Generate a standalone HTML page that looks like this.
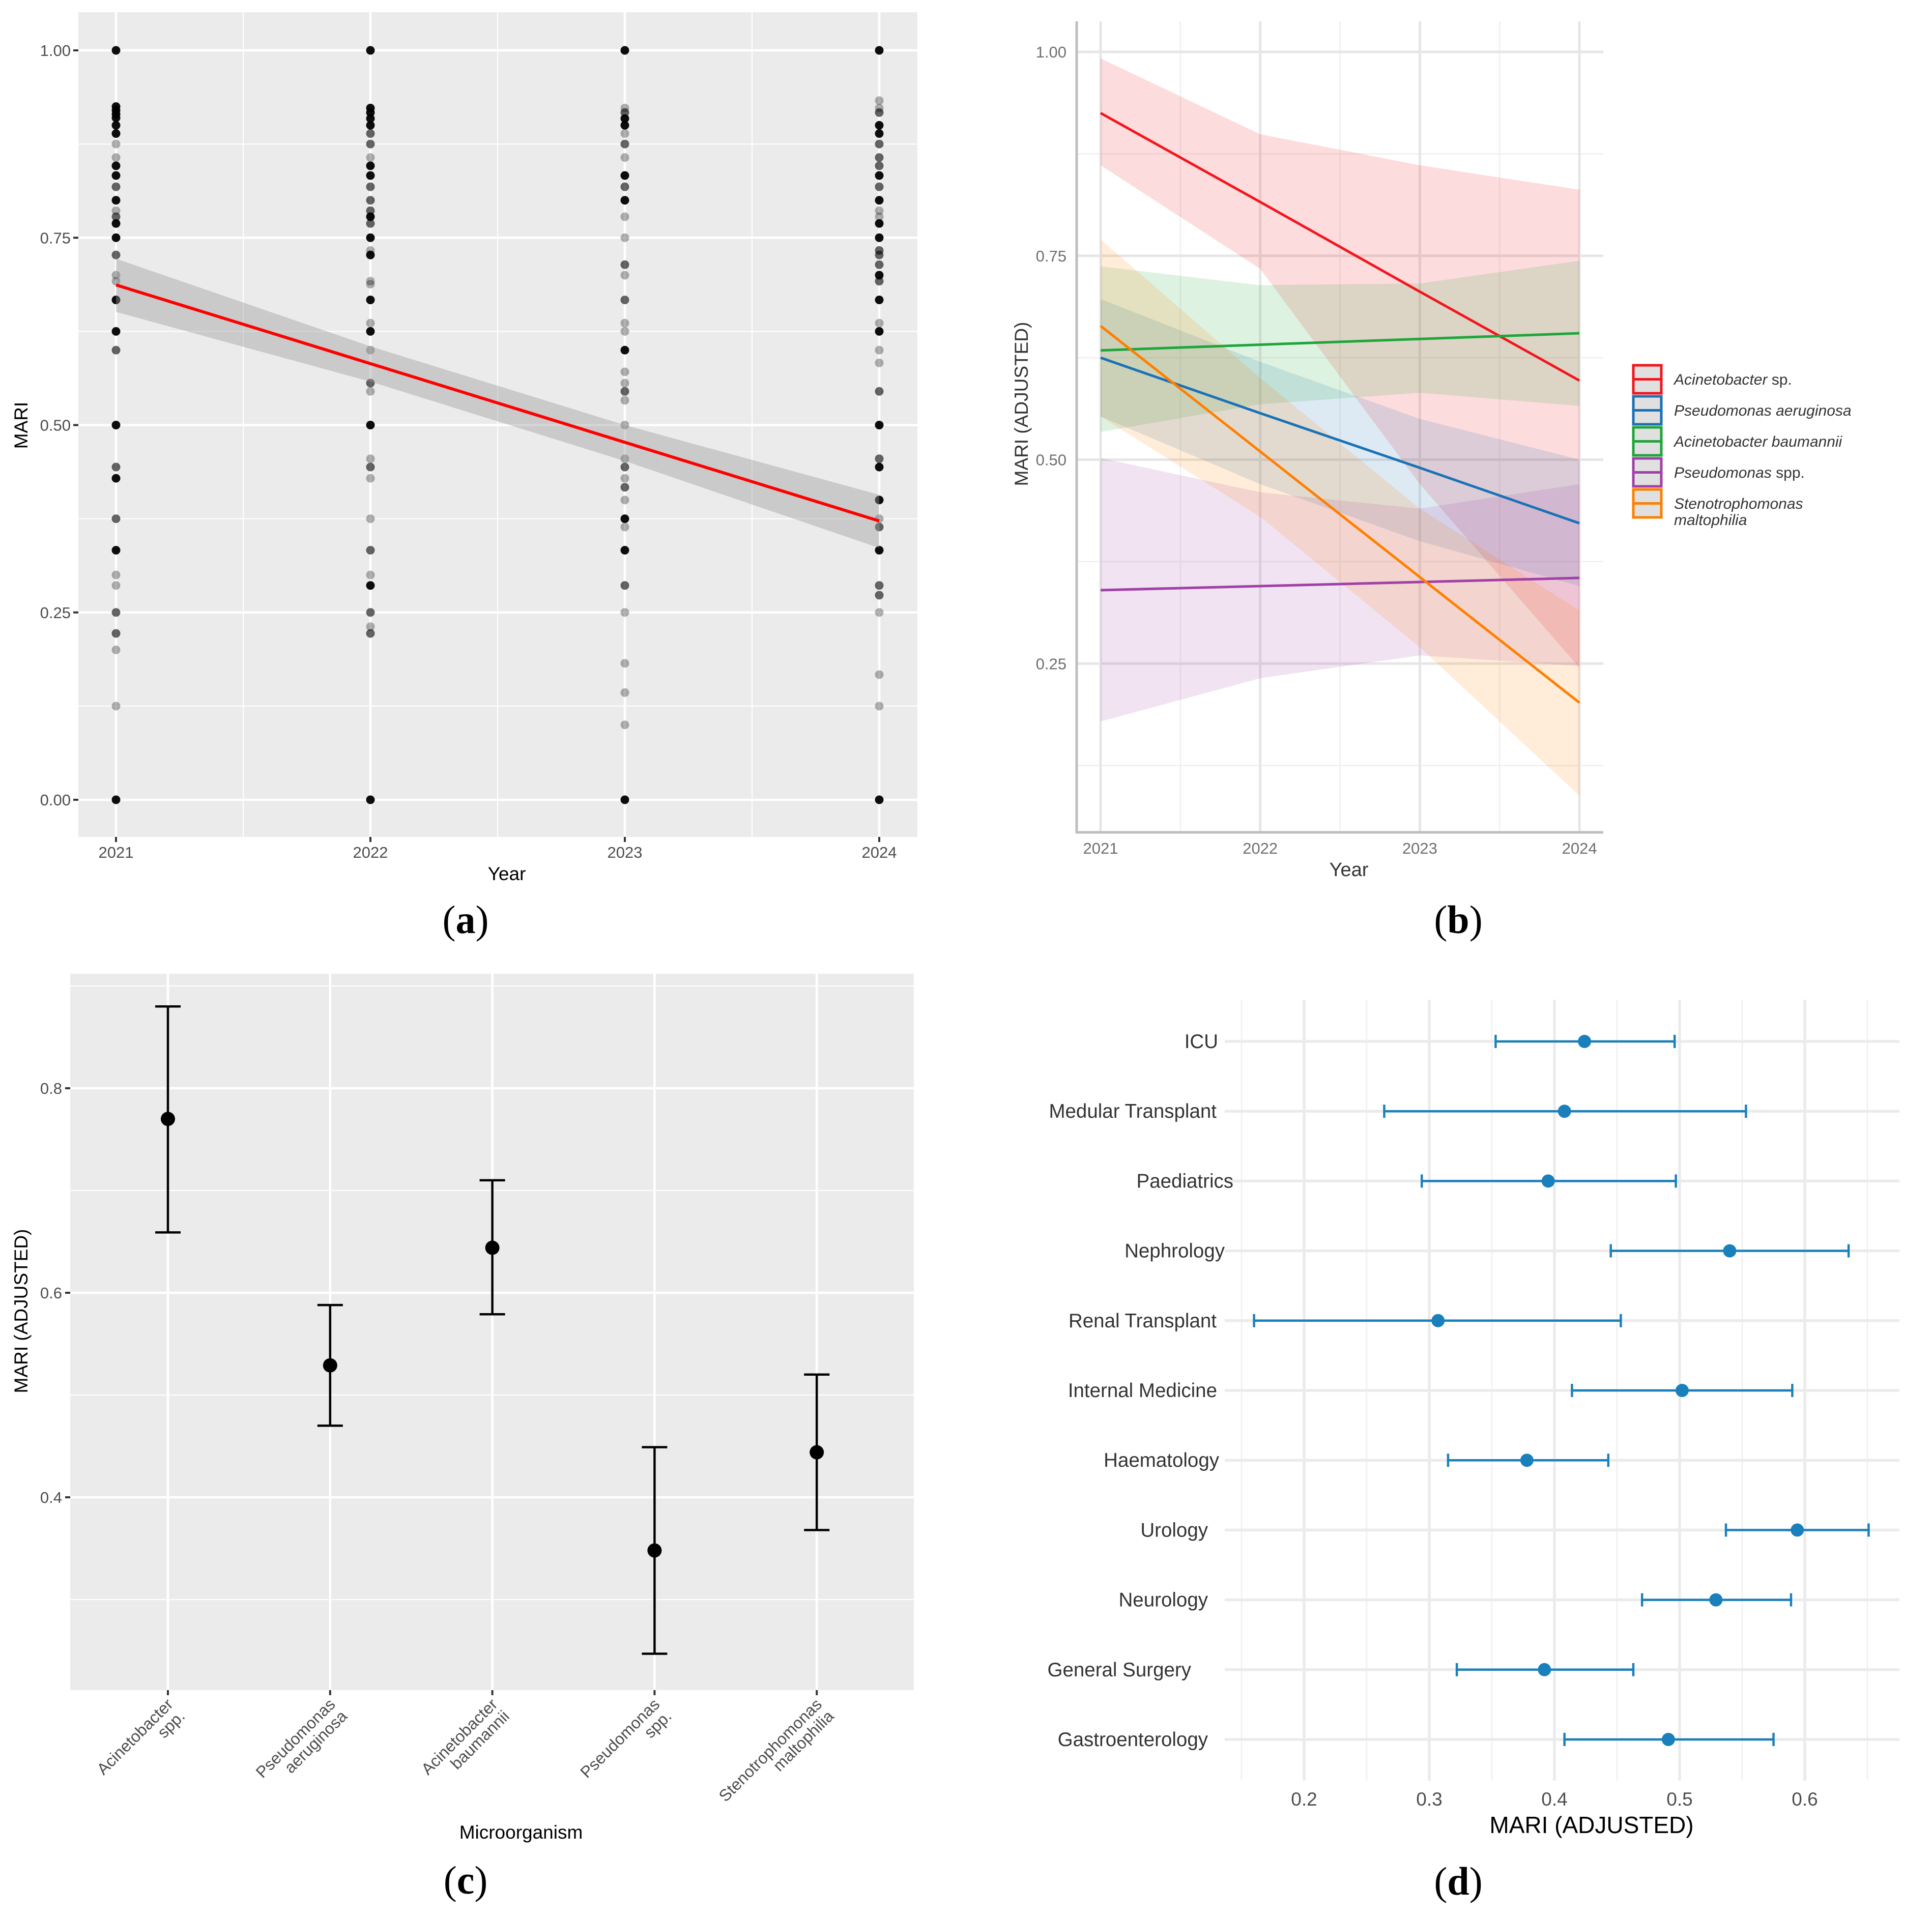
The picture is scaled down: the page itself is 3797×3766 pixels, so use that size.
<!DOCTYPE html>
<html><head><meta charset="utf-8"><style>
html,body{margin:0;padding:0;background:#fff;}
svg{display:block;font-family:"Liberation Sans",sans-serif;}
</style></head><body>
<svg id="fig" width="3797" height="3766" viewBox="0 0 3797 3766" xmlns="http://www.w3.org/2000/svg"></svg>
<script>
// ---------- Panel (a) data ----------
const aYears=[2021,2022,2023,2024];
const aVals2021=[1,0.925,0.92,0.915,0.91,0.9,0.889,0.875,0.857,0.846,0.833,0.818,0.8,0.786,0.778,0.769,0.75,0.727,0.7,0.692,0.667,0.625,0.6,0.5,0.444,0.429,0.375,0.333,0.3,0.286,0.25,0.222,0.2,0.125,0];
const aShade2021=[3,3,3,3,3,3,3,1,1,3,3,2,3,1,2,3,3,2,1,1,3,3,2,3,2,3,2,3,1,1,2,2,1,1,3];
const aVals2022=[1,0.923,0.917,0.909,0.9,0.889,0.875,0.857,0.846,0.833,0.818,0.8,0.786,0.778,0.769,0.75,0.733,0.727,0.692,0.688,0.667,0.636,0.625,0.6,0.556,0.545,0.5,0.455,0.444,0.429,0.375,0.333,0.3,0.286,0.25,0.231,0.222,0];
const aShade2022=[3,3,3,3,3,2,2,1,3,3,2,2,2,3,2,3,1,3,1,1,3,1,3,1,2,1,3,1,2,1,1,2,1,3,2,1,2,3];
const aVals2023=[1,0.923,0.917,0.909,0.9,0.889,0.875,0.857,0.833,0.818,0.8,0.778,0.75,0.714,0.7,0.667,0.636,0.625,0.6,0.571,0.556,0.545,0.533,0.5,0.455,0.444,0.429,0.417,0.4,0.375,0.364,0.333,0.286,0.25,0.182,0.143,0.1,0];
const aShade2023=[3,1,2,3,3,1,2,1,3,2,3,1,1,2,1,2,1,1,3,1,1,2,1,1,1,2,1,2,1,3,1,3,2,1,1,1,1,3];
const aVals2024=[1,0.933,0.923,0.917,0.9,0.889,0.875,0.857,0.846,0.833,0.818,0.8,0.786,0.778,0.769,0.75,0.733,0.727,0.714,0.7,0.692,0.667,0.636,0.625,0.6,0.583,0.545,0.5,0.455,0.444,0.4,0.375,0.364,0.333,0.286,0.273,0.25,0.167,0.125,0];
const aShade2024=[3,1,1,2,3,3,2,2,2,3,2,3,1,1,3,3,2,2,2,3,2,3,1,3,1,1,2,3,2,3,3,1,2,3,2,2,1,1,1,3];
const aFit=[0.687,0.582,0.477,0.372];
const aUpper=[0.722,0.605,0.500,0.407];
const aLower=[0.651,0.558,0.452,0.336];
const aYTicks=[0,0.25,0.5,0.75,1];
const aYTickLabels=["0.00","0.25","0.50","0.75","1.00"];

// ---------- Panel (b) data ----------
const bYears=[2021,2022,2023,2024];
const bSeries=["Acinetobacter sp.","Pseudomonas aeruginosa","Acinetobacter baumannii","Pseudomonas spp.","Stenotrophomonas maltophilia"];
const bFit=[[0.925,0.816,0.706,0.597],[0.625,0.557,0.490,0.422],[0.634,0.641,0.648,0.655],[0.340,0.345,0.350,0.355],[0.664,0.510,0.356,0.202]];
const bUpper=[[0.992,0.899,0.861,0.831],[0.697,0.62,0.55,0.50],[0.737,0.714,0.716,0.744],[0.502,0.46,0.44,0.47],[0.770,0.60,0.44,0.315]];
const bLower=[[0.861,0.734,0.47,0.245],[0.553,0.47,0.40,0.345],[0.534,0.568,0.582,0.566],[0.179,0.232,0.26,0.247],[0.553,0.43,0.27,0.088]];
const bYTicks=[0.25,0.5,0.75,1];
const bYTickLabels=["0.25","0.50","0.75","1.00"];

// ---------- Panel (c) data ----------
const cCats=[["Acinetobacter","spp."],["Pseudomonas","aeruginosa"],["Acinetobacter","baumannii"],["Pseudomonas","spp."],["Stenotrophomonas","maltophilia"]];
const cMean=[0.770,0.529,0.644,0.348,0.444];
const cLo=[0.659,0.470,0.579,0.247,0.368];
const cHi=[0.880,0.588,0.710,0.449,0.520];
const cYTicks=[0.4,0.6,0.8];
const cYTickLabels=["0.4","0.6","0.8"];

// ---------- Panel (d) data ----------
const dCats=["ICU","Medular Transplant","Paediatrics","Nephrology","Renal Transplant","Internal Medicine","Haematology","Urology","Neurology","General Surgery","Gastroenterology"];
const dMean=[0.424,0.408,0.395,0.540,0.307,0.502,0.378,0.594,0.529,0.392,0.491];
const dLo=[0.353,0.264,0.294,0.445,0.160,0.414,0.315,0.537,0.470,0.322,0.408];
const dHi=[0.496,0.553,0.497,0.635,0.453,0.590,0.443,0.651,0.589,0.463,0.575];
const dXTicks=[0.2,0.3,0.4,0.5,0.6];
const dXTickLabels=["0.2","0.3","0.4","0.5","0.6"];

const NS="http://www.w3.org/2000/svg";
const svg=document.getElementById('fig');
function mk(tag,attrs,parent){const e=document.createElementNS(NS,tag);for(const k in attrs)e.setAttribute(k,attrs[k]);(parent||svg).appendChild(e);return e;}
function grp(parent){return mk('g',{},parent);}

// ================= Panel (a) =================
const xA=y=>228+(y-2021)*500;
const yA=v=>1572-v*1473;
const gA=grp();


let el=mk('rect',{x:154,y:24,width:1649,height:1621,fill:'#EBEBEB'},gA);


[0.125,0.375,0.625,0.875].forEach(v=>{
  const l=mk('line',{x1:154,x2:1803,y1:yA(v),y2:yA(v),stroke:'#fff','stroke-width':2},gA);
  
  
});
[2021.5,2022.5,2023.5].forEach(v=>{
  const l=mk('line',{x1:xA(v),x2:xA(v),y1:24,y2:1645,stroke:'#fff','stroke-width':2},gA);
  
  
});
aYTicks.forEach((v,i)=>{
  const l=mk('line',{x1:154,x2:1803,y1:yA(v),y2:yA(v),stroke:'#fff','stroke-width':4.5},gA);
  
  
  const t=mk('line',{x1:144,x2:154,y1:yA(v),y2:yA(v),stroke:'#333','stroke-width':4},gA);
  
  
  const tx=mk('text',{x:139,y:yA(v)+11,'text-anchor':'end','font-size':31,fill:'#4D4D4D'},gA);
  tx.textContent=aYTickLabels[i];
  
  
});
aYears.forEach(y=>{
  const l=mk('line',{x1:xA(y),x2:xA(y),y1:24,y2:1645,stroke:'#fff','stroke-width':4.5},gA);
  
  
  const t=mk('line',{x1:xA(y),x2:xA(y),y1:1645,y2:1655,stroke:'#333','stroke-width':4},gA);
  
  
  const tx=mk('text',{x:xA(y),y:1686,'text-anchor':'middle','font-size':31,fill:'#4D4D4D'},gA);
  tx.textContent=String(y);
  
  
});
const shadeOp={1:0.3,2:0.6,3:0.95};
[[aVals2021,aShade2021],[aVals2022,aShade2022],[aVals2023,aShade2023],[aVals2024,aShade2024]].forEach((pair,yi)=>{
  pair[0].forEach((v,i)=>{
    const c=mk('circle',{cx:xA(aYears[yi]),cy:yA(v),r:8.5,fill:'#000','fill-opacity':shadeOp[pair[1][i]]},gA);
    
    
  });
});
let rib='';
aYears.forEach((y,i)=>{rib+=(i?'L':'M')+xA(y)+','+yA(aUpper[i]);});
for(let i=aYears.length-1;i>=0;i--)rib+='L'+xA(aYears[i])+','+yA(aLower[i]);
el=mk('path',{d:rib+'Z',fill:'#999','fill-opacity':0.4},gA);


el=mk('polyline',{points:aYears.map((y,i)=>xA(y)+','+yA(aFit[i])).join(' '),fill:'none',stroke:'#FF0000','stroke-width':6},gA);


el=mk('text',{x:996,y:1730,'text-anchor':'middle','font-size':37,fill:'#000'},gA);
el.textContent='Year';


el=mk('text',{x:0,y:0,transform:'translate(54,836) rotate(-90)','text-anchor':'middle','font-size':37,fill:'#000'},gA);
el.textContent='MARI';



// ================= Panel (b) =================
const xB=y=>2163+(y-2021)*313.7;
const yB=v=>102+(1-v)*1603;
const gB=grp();


[0.125,0.375,0.625,0.875].forEach(v=>{
  const l=mk('line',{x1:2116,x2:3151,y1:yB(v),y2:yB(v),stroke:'#EFEFEF','stroke-width':2.5},gB);
  
  
});
[2021.5,2022.5,2023.5].forEach(v=>{
  const l=mk('line',{x1:xB(v),x2:xB(v),y1:42,y2:1636,stroke:'#EFEFEF','stroke-width':2.5},gB);
  
  
});
bYTicks.forEach((v,i)=>{
  const l=mk('line',{x1:2116,x2:3151,y1:yB(v),y2:yB(v),stroke:'#E6E6E6','stroke-width':5},gB);
  
  
  const tx=mk('text',{x:2096,y:yB(v)+11,'text-anchor':'end','font-size':31,fill:'#6E6E6E'},gB);
  tx.textContent=bYTickLabels[i];
  
  
});
bYears.forEach(y=>{
  const l=mk('line',{x1:xB(y),x2:xB(y),y1:42,y2:1636,stroke:'#E6E6E6','stroke-width':5},gB);
  
  
  const tx=mk('text',{x:xB(y),y:1678,'text-anchor':'middle','font-size':31,fill:'#6E6E6E'},gB);
  tx.textContent=String(y);
  
  
});
const bColors=['#F2161E','#1A72B5','#1FA53A','#A040A8','#FF7F00'];
bSeries.forEach((s,k)=>{
  let d='';
  bYears.forEach((y,i)=>{d+=(i?'L':'M')+xB(y)+','+yB(bUpper[k][i]);});
  for(let i=bYears.length-1;i>=0;i--)d+='L'+xB(bYears[i])+','+yB(bLower[k][i]);
  const p=mk('path',{d:d+'Z',fill:bColors[k],'fill-opacity':0.15},gB);
  
  
});
bSeries.forEach((s,k)=>{
  const p=mk('polyline',{points:bYears.map((y,i)=>xB(y)+','+yB(bFit[k][i])).join(' '),fill:'none',stroke:bColors[k],'stroke-width':5},gB);
  
  
});
el=mk('line',{x1:2116,x2:2116,y1:42,y2:1638,stroke:'#BEBEBE','stroke-width':5},gB);


el=mk('line',{x1:2114,x2:3151,y1:1636,y2:1636,stroke:'#BEBEBE','stroke-width':5},gB);


el=mk('text',{x:2651,y:1722,'text-anchor':'middle','font-size':38,fill:'#333'},gB);
el.textContent='Year';


el=mk('text',{x:0,y:0,transform:'translate(2020,794) rotate(-90)','text-anchor':'middle','font-size':37,fill:'#333'},gB);
el.textContent='MARI (ADJUSTED)';


// legend
const legParts=[["Acinetobacter"," sp."],["Pseudomonas aeruginosa",""],["Acinetobacter baumannii",""],["Pseudomonas"," spp."],["Stenotrophomonas",""]];
bSeries.forEach((s,k)=>{
  const ky=715+k*61;
  const g=grp(gB);
  
  
  mk('rect',{x:3210,y:ky+3,width:55,height:55,fill:'#E0E0E0',stroke:bColors[k],'stroke-width':5},g);
  mk('line',{x1:3210,x2:3265,y1:ky+30.5,y2:ky+30.5,stroke:bColors[k],'stroke-width':5},g);
  const t=mk('text',{x:3290,y:ky+41,'font-size':30,fill:'#333'},g);
  const ts=mk('tspan',{'font-style':'italic'},t);ts.textContent=legParts[k][0];
  if(legParts[k][1]){const t2=mk('tspan',{},t);t2.textContent=legParts[k][1];}
  if(k===4){const t3=mk('text',{x:3290,y:ky+73,'font-size':30,fill:'#333','font-style':'italic'},g);t3.textContent='maltophilia';}
});

// ================= Panel (c) =================
const xC=i=>330+i*318.8;
const yC=v=>2139+(0.8-v)*2010;
const gC=grp();


el=mk('rect',{x:138,y:1914,width:1658,height:1408,fill:'#EBEBEB'},gC);


[0.3,0.5,0.7,0.9].forEach(v=>{
  const l=mk('line',{x1:138,x2:1796,y1:yC(v),y2:yC(v),stroke:'#fff','stroke-width':2},gC);
  
  
});
cYTicks.forEach((v,i)=>{
  const l=mk('line',{x1:138,x2:1796,y1:yC(v),y2:yC(v),stroke:'#fff','stroke-width':4.5},gC);
  
  
  const t=mk('line',{x1:128,x2:138,y1:yC(v),y2:yC(v),stroke:'#333','stroke-width':4},gC);
  
  
  const tx=mk('text',{x:122,y:yC(v)+11,'text-anchor':'end','font-size':31,fill:'#4D4D4D'},gC);
  tx.textContent=cYTickLabels[i];
  
  
});
cCats.forEach((c,i)=>{
  const x=xC(i);
  const l=mk('line',{x1:x,x2:x,y1:1914,y2:3322,stroke:'#fff','stroke-width':4.5},gC);
  
  
  const t=mk('line',{x1:x,x2:x,y1:3322,y2:3332,stroke:'#333','stroke-width':4},gC);
  
  
  const g=mk('g',{transform:'translate('+(x+12)+',3352) rotate(-45)'},gC);
  
  
  const t1=mk('text',{x:0,y:0,'text-anchor':'end','font-size':32,fill:'#4D4D4D'},g);t1.textContent=c[0];
  const t2=mk('text',{x:0,y:33,'text-anchor':'end','font-size':32,fill:'#4D4D4D'},g);t2.textContent=c[1];
});
cMean.forEach((m,i)=>{
  const x=xC(i);
  const g=grp(gC);
  
  
  mk('line',{x1:x,x2:x,y1:yC(cHi[i]),y2:yC(cLo[i]),stroke:'#000','stroke-width':4.5},g);
  mk('line',{x1:x-25,x2:x+25,y1:yC(cHi[i]),y2:yC(cHi[i]),stroke:'#000','stroke-width':4.5},g);
  mk('line',{x1:x-25,x2:x+25,y1:yC(cLo[i]),y2:yC(cLo[i]),stroke:'#000','stroke-width':4.5},g);
  const c=mk('circle',{cx:x,cy:yC(m),r:14,fill:'#000'},gC);
  
  
});
el=mk('text',{x:1024,y:3614,'text-anchor':'middle','font-size':37,fill:'#000'},gC);
el.textContent='Microorganism';


el=mk('text',{x:0,y:0,transform:'translate(54,2577) rotate(-90)','text-anchor':'middle','font-size':37,fill:'#000'},gC);
el.textContent='MARI (ADJUSTED)';



// ================= Panel (d) =================
const xD=v=>2563+(v-0.2)*2460;
const yD=i=>2047+i*137.2;
const gD=grp();


[0.15,0.25,0.35,0.45,0.55,0.65].forEach(v=>{
  const l=mk('line',{x1:xD(v),x2:xD(v),y1:1965,y2:3500,stroke:'#F0F0F0','stroke-width':2.5},gD);
  
  
});
dXTicks.forEach((v,i)=>{
  const l=mk('line',{x1:xD(v),x2:xD(v),y1:1965,y2:3500,stroke:'#EBEBEB','stroke-width':5.5},gD);
  
  
  const tx=mk('text',{x:xD(v),y:3549,'text-anchor':'middle','font-size':37,fill:'#4D4D4D'},gD);
  tx.textContent=dXTickLabels[i];
  
  
});
const dLabelEnd=[2394,2391,2424,2407,2391,2392,2396,2374,2374,2341,2374];
dCats.forEach((c,i)=>{
  const y=yD(i);
  const l=mk('line',{x1:2407,x2:3733,y1:y,y2:y,stroke:'#EBEBEB','stroke-width':5.5},gD);
  
  
  const tx=mk('text',{x:dLabelEnd[i],y:y+13,'text-anchor':'end','font-size':38.5,fill:'#333'},gD);
  tx.textContent=c;
  
  
});
dMean.forEach((m,i)=>{
  const y=yD(i);
  const g=grp(gD);
  
  
  mk('line',{x1:xD(dLo[i]),x2:xD(dHi[i]),y1:y,y2:y,stroke:'#1A80BB','stroke-width':4.5},g);
  mk('line',{x1:xD(dLo[i]),x2:xD(dLo[i]),y1:y-13,y2:y+13,stroke:'#1A80BB','stroke-width':4.5},g);
  mk('line',{x1:xD(dHi[i]),x2:xD(dHi[i]),y1:y-13,y2:y+13,stroke:'#1A80BB','stroke-width':4.5},g);
  const c=mk('circle',{cx:xD(m),cy:y,r:13,fill:'#1A80BB'},gD);
  
  
});
el=mk('text',{x:3128,y:3603,'text-anchor':'middle','font-size':46,fill:'#000'},gD);
el.textContent='MARI (ADJUSTED)';



// ================= Captions =================
[['(a)',915,1834],['(b)',2866,1834],['(c)',915,3722],['(d)',2866,3724]].forEach(c=>{
  const t=mk('text',{x:c[1],y:c[2],'text-anchor':'middle','font-size':78,fill:'#000','font-family':'"Liberation Serif",serif'});
  const p1=mk('tspan',{},t);p1.textContent='(';
  const p2=mk('tspan',{'font-weight':'bold'},t);p2.textContent=c[0][1];
  const p3=mk('tspan',{},t);p3.textContent=')';
  
  
});
</script>
</body></html>
